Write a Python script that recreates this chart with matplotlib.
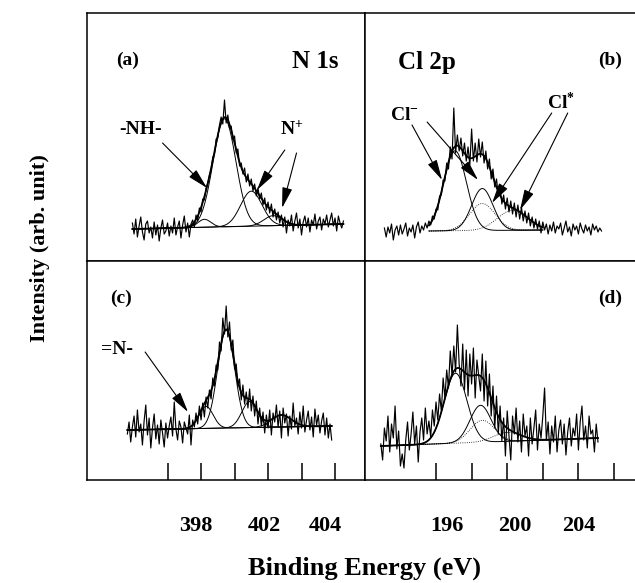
import numpy as np
import matplotlib
matplotlib.use("Agg")
import matplotlib.pyplot as plt

plt.rcParams["font.family"] = ["Liberation Serif", "DejaVu Serif"]
plt.rcParams["font.weight"] = "bold"
plt.rcParams["mathtext.fontset"] = "custom"
plt.rcParams["mathtext.default"] = "bf"
plt.rcParams["mathtext.bf"] = "Liberation Serif:bold"
plt.rcParams["mathtext.rm"] = "Liberation Serif:bold"

# ---- raw spectra (intensity in arbitrary units) ----
# energy grid: start (eV) and step (eV); one value per channel
n1s_a_start, n1s_a_step = 393.9, 0.1
n1s_a = [6, -5, 10, -8, 3, 12, -3, -11, 5, 8, -4, 2, -9, 7, -6, 4, -12, 1, 9, -5,
         -2, 6, -7, 3, -4, 11, -6, 2, 8, -9, 4, 13, -3, 6, -8, 5, 9, 2, 14, 8,
         21, 17, 30, 29, 41, 46, 54, 59, 72, 74, 90, 91, 104, 112, 105, 129, 106, 114, 101, 103,
         89, 93, 76, 80, 63, 66, 55, 61, 47, 55, 43, 50, 38, 45, 33, 41, 30, 36, 24, 31,
         19, 27, 16, 25, 12, 20, 9, 17, 6, 14, 2, 12, -4, 9, 3, 14, -2, 8, 16, 1,
         10, -6, 7, 13, 2, 11, -3, 9, 4, 15, 0, 8, 12, -1, 10, 5, 14, 2, 9, 16,
         3, 11, -2, 13, 6, 1, 8]

cl2p_b_start, cl2p_b_step = 193.1, 0.1
cl2p_b = [3, -6, 4, -2, 7, -9, 1, 5, -4, 6, -3, 2, 8, -5, 3, -1, 6, -7, 4, 9,
          -2, 5, 1, 8, 3, 10, 6, 15, 12, 22, 21, 35, 36, 51, 50, 68, 62, 84, 72, 123,
          78, 96, 80, 93, 75, 88, 70, 84, 66, 102, 70, 88, 69, 92, 74, 89, 68, 80, 62, 72,
          52, 62, 44, 52, 35, 44, 27, 36, 22, 33, 19, 30, 17, 28, 14, 26, 12, 24, 10, 20,
          8, 18, 5, 14, 3, 12, 2, 10, -2, 9, 1, 7, -3, 6, 0, 9, -2, 5, 2, 8,
          -4, 3, 10, -1, 4, -5, 7, 1, 5, -3, 8, 2, -2, 6, 0, 4, -4, 7, 1, 5,
          -1, 3, 0]

n1s_c_start, n1s_c_step = 393.6, 0.1
n1s_c = [-4, 8, -12, 3, 14, -7, 20, -2, 6, -15, 9, 25, -5, 12, -18, 2, 16, -9, 5, -14,
         10, -3, -17, 7, -8, 4, 13, -6, 28, 1, -10, 9, 3, -13, 8, 2, -4, 15, -15, 10,
         3, 17, 6, 24, 10, 27, 13, 33, 22, 40, 31, 52, 44, 65, 60, 88, 79, 112, 96, 124,
         93, 108, 80, 90, 61, 66, 44, 51, 30, 45, 26, 38, 22, 41, 19, 34, 14, 29, 6, 22,
         4, 18, -3, 15, 2, 20, -5, 17, 8, 25, 3, 19, -8, 22, 7, 16, -6, 14, 1, 27,
         4, 12, -4, 18, 2, 24, -2, 10, 19, 0, 13, -7, 21, 5, 15, -3, 9, 17, -5, 12,
         -8, 6, -10]

cl2p_d_start, cl2p_d_step = 192.9, 0.1
cl2p_d = [2, -14, 18, 5, 30, -6, 22, 8, 40, -3, 15, -20, -8, -22, 6, 24, -4, 12, 34, 2,
          20, -16, 14, 28, 6, 38, 12, 25, 9, 36, 20, 44, 26, 52, 35, 68, 48, 76, 58, 95,
          70, 100, 74, 121, 82, 60, 102, 56, 96, 50, 92, 62, 98, 48, 86, 70, 55, 92, 45, 85,
          40, 72, 30, 60, 18, 50, 12, 40, 5, 28, -10, 35, 10, -14, 30, 12, 38, 4, 25, -6,
          32, 10, 20, -10, 28, 2, 18, 36, -4, 22, 8, 30, 58, 6, 24, -8, 20, 4, 30, -6,
          16, 26, 2, 22, -9, 14, 28, 0, 18, 10, 32, -4, 24, 40, 6, 20, -2, 30, 12, 16,
          -6, 22, 4]

# ---- fitted components: centre (eV), height, FWHM (eV), line style ----
fit_a_center = [398.2, 399.4, 401.0, 402.3]
fit_a_height = [8, 108, 35, 10]
fit_a_fwhm = [0.9, 1.6, 1.5, 1.3]
fit_a_style = ["-", "-", "-", "-"]
fit_a_baseline = (393.9, 0, 406.5, 5)

fit_b_center = [197.07, 198.6, 198.6, 200.3]
fit_b_height = [80, 42, 27, 20]
fit_b_fwhm = [1.5, 1.4, 1.7, 2.0]
fit_b_style = ["-", "-", ":", ":"]
fit_b_baseline = (195.6, 0, 202.0, 1)

fit_c_center = [398.3, 399.5, 400.9, 402.8]
fit_c_height = [22, 98, 26, 12]
fit_c_fwhm = [1.0, 1.2, 1.1, 1.4]
fit_c_style = ["-", "-", "-", "-"]
fit_c_baseline = (393.6, 0, 405.8, 4)

fit_d_center = [197.1, 198.5, 198.6, 200.0]
fit_d_height = [70, 37, 22, 9]
fit_d_fwhm = [1.5, 1.4, 1.6, 1.8]
fit_d_style = ["-", "-", ":", ":"]
fit_d_baseline = (192.9, 0, 205.1, 8)

n_ticks = [396, 398, 400, 402, 404, 406]
n_labels = ["398", "402", "404"]
n_label_at = [397.7, 401.8, 405.4]
cl_ticks = [196, 198, 200, 202, 204, 206]
cl_labels = ["196", "200", "204"]
cl_label_at = [196.6, 200.4, 204.0]


def gauss(x, c, h, w):
    return h * np.exp(-4 * np.log(2) * ((x - c) / w) ** 2)


def draw_panel(ax, start, step, values, centers, heights, fwhms, styles, base):
    values = np.asarray(values, dtype=float)
    be = start + step * np.arange(len(values))
    ax.plot(be, values, color="k", lw=0.85)
    x0, y0, x1, y1 = base
    x = np.linspace(x0, x1, 500)
    baseline = y0 + (y1 - y0) * (x - x0) / (x1 - x0)
    total = baseline.copy()
    for c, h, w, ls in zip(centers, heights, fwhms, styles):
        comp = gauss(x, c, h, w)
        total += comp
        ax.plot(x, baseline + comp, color="k", lw=0.7 if ls == "-" else 0.6, ls=ls)
    ax.plot(x, total, color="k", lw=1.3)


def arrow(ax, tail, tip):
    ax.annotate("", xy=tip, xytext=tail,
                arrowprops=dict(arrowstyle="-|>,head_length=0.9,head_width=0.22",
                                lw=0.8, color="k", shrinkA=0, shrinkB=0,
                                mutation_scale=14))


W, H = 635, 583
fig = plt.figure(figsize=(W / 100, H / 100), dpi=100)


def box(l, t, r, b):
    return [l / W, 1 - b / H, (r - l) / W, (b - t) / H]


ax_a = fig.add_axes(box(87, 13, 365, 261))
ax_b = fig.add_axes(box(365, 13, 635, 261))
ax_c = fig.add_axes(box(87, 261, 365, 480))
ax_d = fig.add_axes(box(365, 261, 635, 480))

draw_panel(ax_a, n1s_a_start, n1s_a_step, n1s_a, fit_a_center, fit_a_height,
           fit_a_fwhm, fit_a_style, fit_a_baseline)
draw_panel(ax_b, cl2p_b_start, cl2p_b_step, cl2p_b, fit_b_center, fit_b_height,
           fit_b_fwhm, fit_b_style, fit_b_baseline)
draw_panel(ax_c, n1s_c_start, n1s_c_step, n1s_c, fit_c_center, fit_c_height,
           fit_c_fwhm, fit_c_style, fit_c_baseline)
draw_panel(ax_d, cl2p_d_start, cl2p_d_step, cl2p_d, fit_d_center, fit_d_height,
           fit_d_fwhm, fit_d_style, fit_d_baseline)

for ax in (ax_a, ax_c):
    ax.set_xlim(391.19, 407.79)
for ax in (ax_b, ax_d):
    ax.set_xlim(192.01, 207.18)
ax_a.set_ylim(-32, 216)
ax_b.set_ylim(-30, 218)
ax_c.set_ylim(-50, 169)
ax_d.set_ylim(-34, 185)

for ax in (ax_a, ax_b, ax_c, ax_d):
    ax.set_yticks([])
    for s in ax.spines.values():
        s.set_linewidth(1.1)
for ax in (ax_a, ax_b):
    ax.set_xticks([])
for ax in (ax_b, ax_d):
    ax.spines["right"].set_visible(False)

for ax, ticks, labs, at in ((ax_c, n_ticks, n_labels, n_label_at),
                            (ax_d, cl_ticks, cl_labels, cl_label_at)):
    ax.xaxis.remove_overlapping_locs = False
    ax.set_xticks(ticks)
    ax.set_xticklabels([])
    ax.tick_params(axis="x", which="major", direction="in", length=12, width=1.1)
    ax.set_xticks(at, minor=True)
    ax.set_xticklabels(labs, minor=True, fontsize=16, fontweight="bold")
    ax.tick_params(axis="x", which="minor", length=0, pad=26)

# panel labels
ax_a.text(393.6, 169, "(a)", fontsize=14, ha="center", va="center")
ax_a.text(404.8, 167, "N 1s", fontsize=18, ha="center", va="center")
ax_b.text(195.5, 169, "Cl 2p", fontsize=18, ha="center", va="center")
ax_b.text(205.8, 171, "(b)", fontsize=14, ha="center", va="center")
ax_c.text(393.2, 132, "(c)", fontsize=14, ha="center", va="center")
ax_d.text(205.8, 148, "(d)", fontsize=14, ha="center", va="center")

# peak assignments
ax_a.text(394.4, 99, "-NH-", fontsize=14, ha="center", va="center")
arrow(ax_a, (395.7, 86), (398.36, 41))
ax_a.text(403.4, 100, r"N$^{+}$", fontsize=14, ha="center", va="center")
arrow(ax_a, (403.0, 79), (401.34, 39))
arrow(ax_a, (403.7, 76), (402.84, 21))

ax_b.text(194.2, 115, r"Cl$^{-}$", fontsize=14, ha="center", va="center")
arrow(ax_b, (194.65, 106), (196.34, 51))
arrow(ax_b, (195.5, 109), (198.36, 51))
ax_b.text(203.0, 129, r"Cl$^{*}$", fontsize=14, ha="center", va="center")
arrow(ax_b, (202.5, 118), (199.15, 28))
arrow(ax_b, (203.4, 118), (200.72, 21))

ax_c.text(393.0, 81, "=N-", fontsize=14, ha="center", va="center")
arrow(ax_c, (394.66, 78), (397.22, 18))

fig.text(365 / W, 1 - 568 / H, "Binding Energy (eV)", fontsize=19,
         ha="center", va="center")
fig.text(40 / W, 1 - 248 / H, "Intensity (arb. unit)", fontsize=16,
         rotation=90, ha="center", va="center")

fig.savefig("out.png", dpi=100)
